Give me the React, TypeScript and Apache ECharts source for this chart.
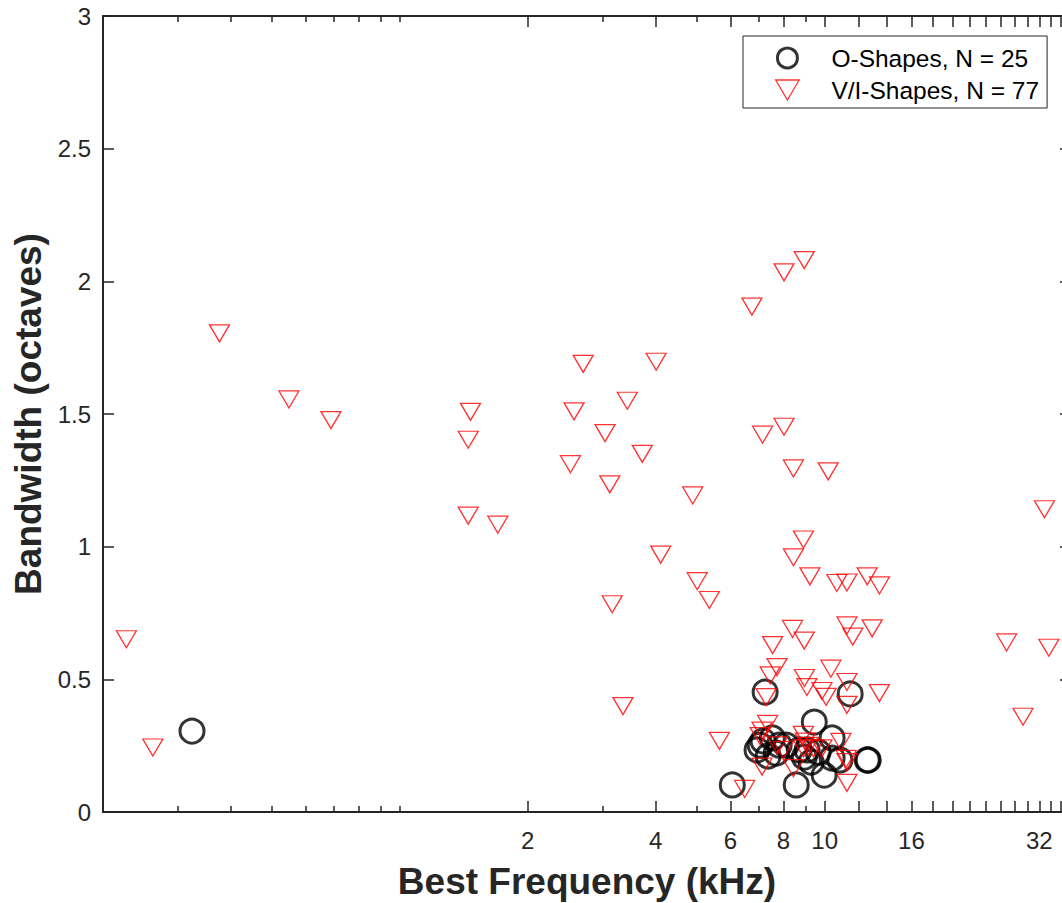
import React, { useEffect, useRef } from 'react';
import * as echarts from 'echarts';

// O-shaped units: best frequency (kHz) and bandwidth (octaves)
const oShapeBF = [0.324, 6.06, 8.57, 9.45, 7.24, 11.48, 12.59, 12.66, 9.97, 6.93, 7.16, 7.53, 7.81, 7.69, 7.36, 8.95, 9.29, 10.41, 10.41, 8.12, 8.71, 9.65, 10.86, 7.05, 9.09];
const oShapeBW = [0.305, 0.102, 0.102, 0.339, 0.452, 0.445, 0.196, 0.196, 0.139, 0.234, 0.268, 0.279, 0.252, 0.222, 0.211, 0.207, 0.188, 0.279, 0.203, 0.252, 0.234, 0.226, 0.196, 0.252, 0.234];

// V/I-shaped units
const viShapeBF = [
  0.227, 0.262, 0.376, 0.548, 0.688, 1.466, 1.448, 1.448, 1.7, 8.95,
  8.02, 6.74, 2.7, 4.01, 3.43, 2.57, 3.04, 3.72, 2.52, 3.12,
  4.89, 7.14, 8.02, 8.44, 10.19, 8.91, 8.44, 4.11, 9.23, 5.01,
  5.35, 3.16, 10.68, 11.28, 12.59, 13.45, 8.4, 8.95, 11.28, 12.93,
  11.64, 7.54, 32.9, 26.8, 33.7, 29.3, 7.72, 7.44, 8.96, 10.34,
  11.28, 9.08, 9.85, 10.08, 13.45, 11.28, 7.28, 3.35, 5.65, 6.48,
  7.34, 7.12, 7.74, 7.12, 8.91, 9.0, 9.16, 9.41, 8.91, 9.85,
  8.44, 10.92, 11.24, 11.28, 11.28, 7.05, 7.99,
];
const viShapeBW = [
  0.651, 0.243, 1.804, 1.555, 1.477, 1.508, 1.403, 1.117, 1.083, 2.08,
  2.034, 1.905, 1.689, 1.697, 1.55, 1.51, 1.428, 1.35, 1.311, 1.235,
  1.193, 1.422, 1.452, 1.295, 1.284, 1.027, 0.96, 0.97, 0.888, 0.87,
  0.799, 0.783, 0.863, 0.865, 0.888, 0.854, 0.69, 0.646, 0.703, 0.692,
  0.661, 0.629, 1.141, 0.639, 0.619, 0.359, 0.546, 0.515, 0.505, 0.54,
  0.49, 0.471, 0.456, 0.434, 0.448, 0.404, 0.433, 0.399, 0.268, 0.087,
  0.332, 0.307, 0.251, 0.171, 0.291, 0.265, 0.249, 0.24, 0.24, 0.24,
  0.165, 0.264, 0.2, 0.188, 0.11, 0.286, 0.234,
];

const seriesNames = ['O-Shapes, N = 25', 'V/I-Shapes, N = 77'];
const xMajorTicks = [2, 4, 6, 8, 10, 12, 14, 16, 18, 20, 22, 24, 26, 28, 30, 32, 34, 36];
const xTickLabels = [2, 4, 6, 8, 10, 16, 32];
const xMinorTicks = [0.3, 0.4, 0.5, 0.6, 0.7, 0.8, 0.9, 1, 3, 5, 7, 9];
const xRange = [0.2, 38];
const yRange = [0, 3];
const yStep = 0.5;

const FONT = '"Liberation Sans", Arial, Helvetica, sans-serif';
const AXIS = '#262626';
const TRI = 'path://M0,0L20,0L10,17Z';

export default function App() {
  const ref = useRef<HTMLDivElement>(null);

  useEffect(() => {
    const chart = echarts.init(ref.current as HTMLDivElement, null, { renderer: 'svg' });

    const lineStyle = { color: AXIS, width: 2 };
    const tickStyle = { color: AXIS, width: 1.5 };
    const logX = (extra: any) => ({
      type: 'log',
      logBase: 2,
      min: xRange[0],
      max: xRange[1],
      gridIndex: 0,
      splitLine: { show: false },
      minorTick: { show: false },
      minorSplitLine: { show: false },
      ...extra,
    });

    const oData = oShapeBF.map((f, i) => [f, oShapeBW[i]]);
    const viData = viShapeBF.map((f, i) => [f, viShapeBW[i]]);

    const option: any = {
      animation: false,
      backgroundColor: '#ffffff',
      grid: { left: 103, top: 16, right: -9, bottom: 91, containLabel: false, outerBoundsMode: 'none' },
      legend: {
        orient: 'vertical',
        left: 743,
        top: 36,
        padding: [8, 8, 4, 32],
        itemGap: 4,
        itemWidth: 78,
        itemHeight: 20,
        backgroundColor: '#ffffff',
        borderColor: AXIS,
        borderWidth: 1,
        borderRadius: 0,
        selectedMode: false,
        textStyle: { fontSize: 24.5, color: '#000', fontFamily: FONT, lineHeight: 28 },
        data: [
          { name: seriesNames[0], icon: 'circle', itemStyle: { color: 'rgba(0,0,0,0)', borderColor: '#000', borderWidth: 3 } },
          { name: seriesNames[1], icon: TRI, itemStyle: { color: 'rgba(0,0,0,0)', borderColor: '#ff0000', borderWidth: 1.3 } },
        ],
      },
      xAxis: [
        logX({
          position: 'bottom',
          axisLine: { show: true, onZero: false, lineStyle },
          axisTick: { show: true, inside: true, length: 11, customValues: xMajorTicks, lineStyle: tickStyle },
          axisLabel: { show: true, customValues: xTickLabels, fontSize: 24, color: AXIS, fontFamily: FONT, margin: 16 },
          name: 'Best Frequency (kHz)',
          nameLocation: 'middle',
          nameGap: 51,
          nameTextStyle: { fontSize: 37, fontWeight: 'bold', color: AXIS, fontFamily: FONT },
        }),
        logX({
          position: 'bottom',
          axisLine: { show: false, onZero: false },
          axisTick: { show: true, inside: true, length: 6, customValues: xMinorTicks, lineStyle: tickStyle },
          axisLabel: { show: false },
        }),
        logX({
          position: 'top',
          axisLine: { show: true, onZero: false, lineStyle },
          axisTick: { show: true, inside: true, length: 11, customValues: xMajorTicks, lineStyle: tickStyle },
          axisLabel: { show: false },
        }),
        logX({
          position: 'top',
          axisLine: { show: false, onZero: false },
          axisTick: { show: true, inside: true, length: 6, customValues: xMinorTicks, lineStyle: tickStyle },
          axisLabel: { show: false },
        }),
      ],
      yAxis: [
        {
          type: 'value',
          min: yRange[0],
          max: yRange[1],
          interval: yStep,
          position: 'left',
          axisLine: { show: true, onZero: false, lineStyle },
          axisTick: { show: true, inside: true, length: 11, lineStyle: tickStyle },
          axisLabel: { fontSize: 24, color: AXIS, fontFamily: FONT, margin: 12 },
          splitLine: { show: false },
          name: 'Bandwidth (octaves)',
          nameLocation: 'middle',
          nameGap: 56,
          nameTextStyle: { fontSize: 37, fontWeight: 'bold', color: AXIS, fontFamily: FONT },
        },
        {
          type: 'value',
          min: yRange[0],
          max: yRange[1],
          interval: yStep,
          position: 'right',
          axisLine: { show: true, onZero: false, lineStyle },
          axisTick: { show: true, inside: true, length: 11, lineStyle: tickStyle },
          axisLabel: { show: false },
          splitLine: { show: false },
        },
      ],
      series: [
        {
          type: 'scatter',
          name: seriesNames[0],
          xAxisIndex: 0,
          yAxisIndex: 0,
          data: oData,
          symbol: 'circle',
          symbolSize: 24,
          itemStyle: { color: 'rgba(0,0,0,0)', borderColor: '#000', borderWidth: 3 },
          emphasis: { disabled: true },
          z: 2,
        },
        {
          type: 'scatter',
          name: seriesNames[1],
          xAxisIndex: 0,
          yAxisIndex: 0,
          data: viData,
          symbol: TRI,
          symbolSize: [20, 17],
          itemStyle: { color: 'rgba(0,0,0,0)', borderColor: '#ff0000', borderWidth: 1.3 },
          emphasis: { disabled: true },
          z: 3,
        },
      ],
    };

    chart.setOption(option);
    return () => chart.dispose();
  }, []);

  return (
    <div
      ref={ref}
      style={{ position: 'fixed', left: 0, top: 0, width: 1062, height: 903, background: '#fff' }}
    />
  );
}
